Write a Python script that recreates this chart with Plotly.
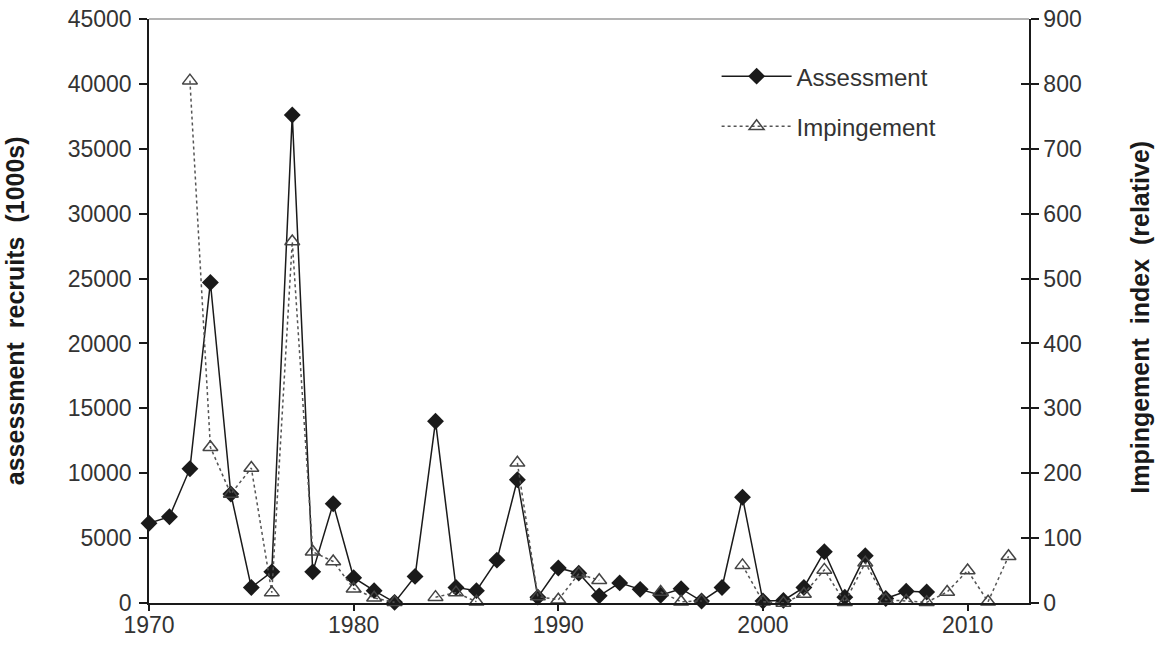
import plotly.graph_objects as go

# Assessment recruits (1000s), 1970-2008
assessment_years = list(range(1970, 2009))
assessment = [
    6150, 6650, 10350, 24700, 8400, 1200, 2400, 37600, 2400, 7650,
    1950, 950, 50, 2050, 14000, 1200, 950, 3300, 9500, 450,
    2700, 2300, 550, 1550, 1050, 600, 1100, 150, 1200, 8150,
    150, 200, 1200, 3950, 450, 3650, 350, 900, 850,
]

# Impingement index (relative), 1972-2012; None = no survey that year
impingement_years = list(range(1972, 2013))
impingement = [
    805, 240, 168, 208, 16, 557, 79, 64, 22, 8,
    1, None, 9, 16, 2, None, 216, 10, 5, 45,
    35, None, None, 17, 2, 3, None, 58, 2, 0,
    14, 51, 1, 62, 5, 3, 1, 17, 50, 2,
    72,
]

left_ticks = list(range(0, 45001, 5000))
right_ticks = list(range(0, 901, 100))
x_ticks = [1970, 1980, 1990, 2000, 2010]

left_title = "assessment  recruits  (1000s)"
right_title = "Impingement  index  (relative)"

FONT = "Liberation Sans, Arial, sans-serif"
INK = "#1a1a1a"
LABEL = "#333333"
TICK_SIZE = 23
TITLE_SIZE = 25

fig = go.Figure()

fig.add_trace(go.Scatter(
    x=assessment_years, y=assessment, name="Assessment",
    mode="lines+markers", yaxis="y", legendgroup="a",
    line=dict(color=INK, width=1.5),
    marker=dict(symbol="diamond", size=13, color=INK),
    cliponaxis=False,
))

fig.add_trace(go.Scatter(
    x=impingement_years, y=impingement, name="Impingement",
    mode="lines+markers", yaxis="y2", legendgroup="b",
    connectgaps=False,
    line=dict(color="#555555", width=1.5, dash="dot"),
    marker=dict(symbol="triangle-up-open", size=13, color="#444444",
                line=dict(width=1.5)),
    cliponaxis=False,
))

# empty trace so the inner tick axis is rendered
fig.add_trace(go.Scatter(x=[None], y=[None], yaxis="y3",
                         showlegend=False, hoverinfo="skip"))

axis_common = dict(
    showgrid=False, zeroline=False, automargin=False,
    showline=True, linecolor=INK, linewidth=1.5,
    ticks="outside", tickcolor=INK, tickwidth=1.5,
    tickfont=dict(size=TICK_SIZE, color=LABEL),
)

fig.update_layout(
    width=1164, height=653,
    margin=dict(l=149, r=135, t=19, b=50),
    paper_bgcolor="white", plot_bgcolor="white",
    font=dict(family=FONT, color=LABEL, size=TICK_SIZE),
    showlegend=True,
    legend=dict(
        x=0.645, y=0.94, xanchor="left", yanchor="top",
        bgcolor="rgba(0,0,0,0)", font=dict(size=24, color=LABEL),
        tracegroupgap=16, itemwidth=70,
    ),
    xaxis=dict(range=[1970, 2013], tickvals=x_ticks, ticklen=6,
               ticklabelstandoff=-5, **axis_common),
    yaxis=dict(range=[0, 45000], tickvals=left_ticks, tickformat="d",
               ticklen=8, ticklabelstandoff=3, **axis_common),
    yaxis2=dict(range=[0, 900], tickvals=right_ticks,
                overlaying="y", side="right", anchor="x",
                ticklen=8, **axis_common),
    # inner half of the right-axis cross ticks
    yaxis3=dict(
        range=[0, 900], tickvals=right_ticks,
        overlaying="y", side="right", anchor="x", automargin=False,
        showgrid=False, zeroline=False, showline=False,
        ticks="inside", ticklen=8, tickcolor=INK, tickwidth=1.5,
        showticklabels=False,
    ),
    annotations=[
        dict(text=f"<b>{left_title}</b>", textangle=-90,
             xref="paper", yref="paper", x=-0.152, y=0.5,
             xanchor="center", yanchor="middle", showarrow=False,
             font=dict(size=TITLE_SIZE, color=INK)),
        dict(text=f"<b>{right_title}</b>", textangle=-90,
             xref="paper", yref="paper", x=1.126, y=0.49,
             xanchor="center", yanchor="middle", showarrow=False,
             font=dict(size=TITLE_SIZE, color=INK)),
    ],
    shapes=[dict(type="line", xref="paper", yref="paper",
                 x0=0, x1=1, y0=1, y1=1,
                 line=dict(color="#9a9a9a", width=1.5))],
)

fig.write_html("out.html")
